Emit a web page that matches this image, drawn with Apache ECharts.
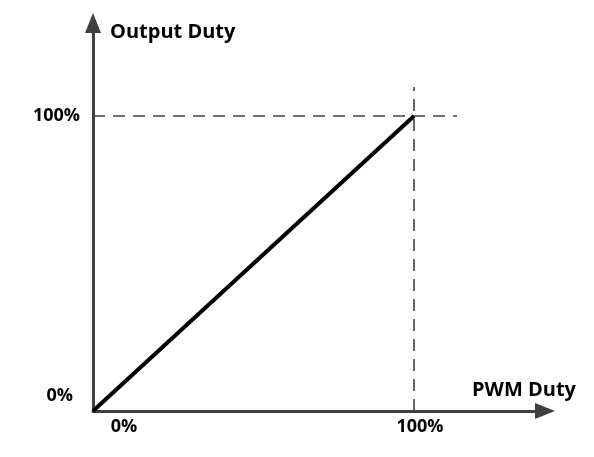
<!DOCTYPE html>
<html><head><meta charset="utf-8">
<script src="https://cdn.jsdelivr.net/npm/echarts@6/dist/echarts.min.js"></script>
<style>html,body{margin:0;padding:0;background:#fff}#c{width:594px;height:457px}</style>
</head><body><div id="c"></div>
<script>
// Data
const xAxisName = 'PWM Duty';
const yAxisName = 'Output Duty';
const tickValues = [0, 100];
const tickLabels = ['0%', '100%'];
const transferLine = [[0, 0], [100, 100]];
const guideHorizontal = [[0, 100], [113.4, 100]];
const guideVertical = [[100, 0], [100, 109.8]];
const xMax = 140.8;
const yMax = 131.5;

const font = '"Open Sans", Lato, sans-serif';
const axisColor = '#404040';

function lab(v){ const i = tickValues.indexOf(v); return i < 0 ? '' : tickLabels[i]; }

const chart = echarts.init(document.getElementById('c'), null, {renderer:'canvas'});
chart.setOption({
  animation: false,
  grid: {left: 93, right: 49, top: 23, bottom: 46},
  xAxis: {
    type: 'value', min: 0, max: xMax, interval: 100,
    name: xAxisName, nameLocation: 'end', nameGap: -73,
    nameTextStyle: {fontFamily: font, fontWeight: 'bold', fontSize: 20, color: '#000', align: 'left', verticalAlign: 'bottom', lineHeight: 42},
    axisLine: {show: true, lineStyle: {color: axisColor, width: 3}, symbol: ['none','triangle'], symbolSize: [16, 20]},
    axisTick: {show: false}, splitLine: {show: false},
    axisLabel: {margin: 7, showMaxLabel: false,
      formatter: function(v){ return v === 0 ? '{a|' + lab(v) + '}' : '{b|' + lab(v) + '}'; },
      rich: {
        a: {fontFamily: font, fontWeight: 'bold', fontSize: 18, color: '#000', padding: [0,0,0,62]},
        b: {fontFamily: font, fontWeight: 'bold', fontSize: 18, color: '#000', padding: [0,0,0,12]}
      }}
  },
  yAxis: {
    type: 'value', min: 0, max: yMax, interval: 100,
    name: yAxisName, nameLocation: 'end', nameGap: -9,
    nameTextStyle: {fontFamily: font, fontWeight: 'bold', fontSize: 20, color: '#000', align: 'left', verticalAlign: 'middle', padding: [0,0,0,17]},
    axisLine: {show: true, lineStyle: {color: axisColor, width: 3}, symbol: ['none','triangle'], symbolSize: [16, 20]},
    axisTick: {show: false}, splitLine: {show: false},
    axisLabel: {margin: 13, showMaxLabel: false,
      formatter: function(v){ return v === 0 ? '{a|' + lab(v) + '}' : '{b|' + lab(v) + '}'; },
      rich: {
        a: {fontFamily: font, fontWeight: 'bold', fontSize: 18, color: '#000', padding: [0,7,30,0]},
        b: {fontFamily: font, fontWeight: 'bold', fontSize: 18, color: '#000'}
      }}
  },
  series: [
    {type: 'line', data: guideHorizontal, symbol: 'none', silent: true,
     lineStyle: {color: '#404040', width: 1.6, type: [12, 8]}},
    {type: 'line', data: guideVertical, symbol: 'none', silent: true,
     lineStyle: {color: '#404040', width: 1.6, type: [12, 8]}},
    {type: 'line', data: transferLine, symbol: 'none', silent: true,
     lineStyle: {color: '#000', width: 4}}
  ]
});
</script></body></html>
